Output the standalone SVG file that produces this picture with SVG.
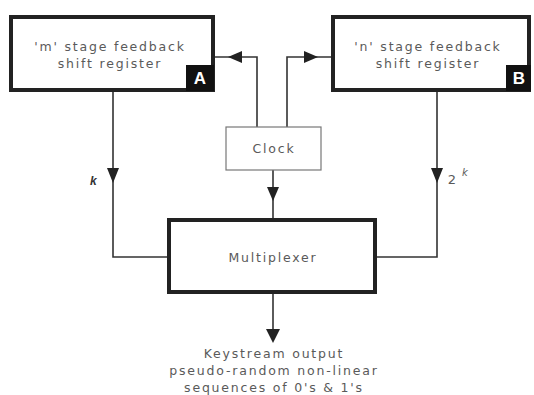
<svg xmlns="http://www.w3.org/2000/svg" width="534" height="395" viewBox="0 0 534 395">
  <defs>
    <style>
      .box { fill: #fff; stroke: #222; stroke-width: 4; }
      .thin { fill: #fff; stroke: #777; stroke-width: 1.2; }
      .wire { fill: none; stroke: #333; stroke-width: 1.6; }
      .lbl { font-family: "DejaVu Sans", sans-serif; font-size: 12.5px; fill: #5a5a5a; letter-spacing: 1.8px; text-anchor: middle; }
      .tag { font-family: "Liberation Sans", Arial, sans-serif; font-weight: bold; font-size: 17px; fill: #fff; text-anchor: middle; }
      .var { font-family: "Liberation Sans", Arial, sans-serif; font-style: italic; font-weight: bold; font-size: 12px; fill: #333; }
    </style>
  </defs>

  <g id="connectors">
    <!-- clock feeds to both registers -->
    <path class="wire" d="M257,127 V57 H215"/>
    <polygon points="228,57 242,51 242,63" fill="#222"/>
    <path class="wire" d="M287,127 V57 H331"/>
    <polygon points="318,57 304,51 304,63" fill="#222"/>
    <!-- clock to multiplexer -->
    <path class="wire" d="M273,170 V218"/>
    <polygon points="273,201 267,187 279,187" fill="#222"/>
    <!-- register A to multiplexer -->
    <path class="wire" d="M113,91 V257 H167"/>
    <polygon points="113,183 107,168 119,168" fill="#222"/>
    <!-- register B to multiplexer -->
    <path class="wire" d="M437,91 V257 H377"/>
    <polygon points="437,183 431,168 443,168" fill="#222"/>
    <!-- keystream output -->
    <path class="wire" d="M273,293 V332"/>
    <polygon points="273,343 266,329 280,329" fill="#222"/>
  </g>

  <g id="regA">
    <rect class="box" x="11" y="17" width="202" height="73"/>
    <text class="lbl" x="110" y="51">'m' stage feedback</text>
    <text class="lbl" x="110" y="68">shift register</text>
    <rect x="186" y="65" width="28" height="26" fill="#111"/>
    <text class="tag" x="200" y="84">A</text>
  </g>

  <g id="regB">
    <rect class="box" x="333" y="17" width="196" height="73"/>
    <text class="lbl" x="428" y="51">'n' stage feedback</text>
    <text class="lbl" x="428" y="68">shift register</text>
    <rect x="506" y="65" width="25" height="26" fill="#111"/>
    <text class="tag" x="519" y="84">B</text>
  </g>

  <g id="clock">
    <rect class="thin" x="226" y="127" width="95" height="43"/>
    <text class="lbl" x="274" y="153">Clock</text>
  </g>

  <g id="mux">
    <rect class="box" x="169" y="220" width="206" height="72"/>
    <text class="lbl" x="273" y="262">Multiplexer</text>
  </g>

  <g id="labels">
    <text class="var" x="90" y="185">k</text>
    <text class="lbl" x="452" y="184" style="font-size:13px;letter-spacing:0">2</text>
    <text class="lbl" x="465" y="176" style="font-size:10px;letter-spacing:0;font-style:italic">k</text>
  </g>

  <g id="output">
    <text class="lbl" x="274" y="358">Keystream output</text>
    <text class="lbl" x="274" y="375">pseudo-random non-linear</text>
    <text class="lbl" x="274" y="392">sequences of 0's &amp; 1's</text>
  </g>
</svg>
